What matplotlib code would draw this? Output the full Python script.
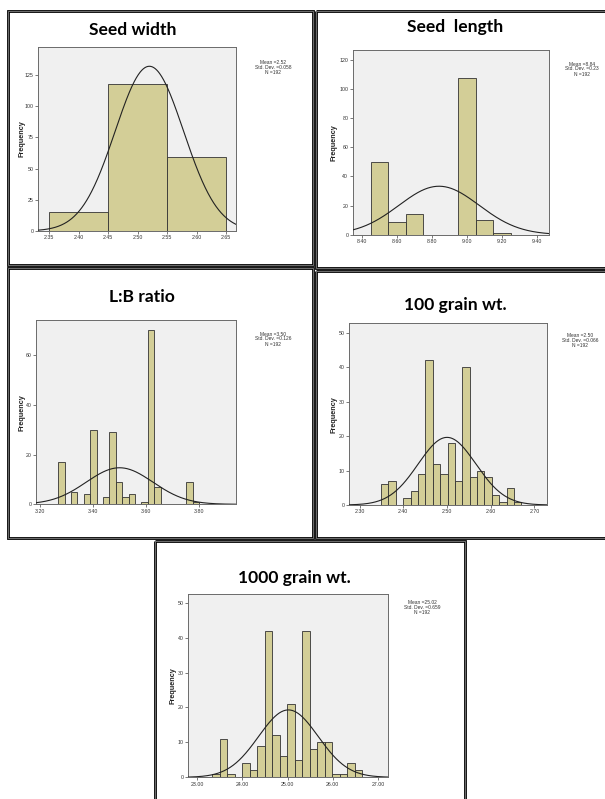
import numpy as np
import matplotlib
matplotlib.use("Agg")
import matplotlib.pyplot as plt
from matplotlib.patches import Rectangle

W, H = 605, 799

# ---------------- data ----------------
titles = ["Seed width", "Seed  length", "L:B ratio", "100 grain wt.", "1000 grain wt."]

sw_edges = [2.35, 2.45, 2.55, 2.65]
sw_counts = [15, 118, 59]
sw_stats = (2.52, 0.058, 192)

sl_edges = [8.45, 8.55, 8.65, 8.75, 8.85, 8.95, 9.05, 9.15, 9.25]
sl_counts = [50, 9, 14, 0, 0, 108, 10, 1]
sl_stats = (8.84, 0.23, 192)

lb_start, lb_width = 3.268, 0.0242
lb_counts = [17, 0, 5, 0, 4, 30, 0, 3, 29, 9, 3, 4, 0, 1, 70, 7, 0, 0, 0, 0, 9, 1]
lb_stats = (3.50, 0.126, 192)

g100_start, g100_width = 2.349, 0.0169
g100_counts = [6, 7, 0, 2, 4, 9, 42, 12, 9, 18, 7, 40, 8, 10, 8, 3, 1, 5, 1]
g100_stats = (2.50, 0.066, 192)

g1000_start, g1000_width = 23.336, 0.166
g1000_counts = [1, 11, 1, 0, 4, 2, 9, 42, 12, 6, 21, 5, 42, 8, 10, 10, 1, 1, 4, 2]
g1000_stats = (25.02, 0.659, 192)

stat_texts = ["Mean =2.52\nStd. Dev. =0.058\nN =192",
              "Mean =8.84\nStd. Dev. =0.23\nN =192",
              "Mean =3.50\nStd. Dev. =0.126\nN =192",
              "Mean =2.50\nStd. Dev. =0.066\nN =192",
              "Mean =25.02\nStd. Dev. =0.659\nN =192"]

sw_xticks = [2.35, 2.40, 2.45, 2.50, 2.55, 2.60, 2.65]
sl_xticks = [8.40, 8.60, 8.80, 9.00, 9.20, 9.40]
lb_xticks = [3.20, 3.40, 3.60, 3.80]
g100_xticks = [2.30, 2.40, 2.50, 2.60, 2.70]
g1000_xticks = [23.0, 24.0, 25.0, 26.0, 27.0]

sw_yticks = [0, 25, 50, 75, 100, 125]
sl_yticks = [0, 20, 40, 60, 80, 100, 120]
lb_yticks = [0, 20, 40, 60]
g100_yticks = [0, 10, 20, 30, 40, 50]
g1000_yticks = [0, 10, 20, 30, 40, 50]

# ---------------- layout (pixel coords) ----------------
fig = plt.figure(figsize=(W / 100, H / 100), dpi=100)
fig.patch.set_facecolor("white")

bg = fig.add_axes([0, 0, 1, 1])
bg.set_xlim(0, W)
bg.set_ylim(H, 0)
bg.axis("off")

boxes = [(8, 11, 313, 265), (316, 11, 607, 268), (8, 268, 313, 538),
         (316, 271, 607, 538), (155, 541, 465, 805)]
for x0, y0, x1, y1 in boxes:
    bg.add_patch(Rectangle((x0, y0), x1 - x0, y1 - y0, fill=False,
                           edgecolor="black", lw=2.0))
    bg.add_patch(Rectangle((x0, y0), x1 - x0, y1 - y0, fill=False,
                           edgecolor="#9a9a9a", lw=0.5))


def px_axes(x0, y0, x1, y1):
    return fig.add_axes([x0 / W, 1 - y1 / H, (x1 - x0) / W, (y1 - y0) / H])


panels = [
    dict(rect=(38, 47, 236, 231), edges=sw_edges, counts=sw_counts, stats=sw_stats,
         xlim=(2.331, 2.667), ylim=(0, 147.5), xticks=sw_xticks, yticks=sw_yticks,
         xfmt="{:.2f}", title_xy=(133, 30), stat_xy=(273, 60), ylab_x=21.7),
    dict(rect=(352.7, 50, 549.3, 234.7), edges=sl_edges, counts=sl_counts, stats=sl_stats,
         xlim=(8.345, 9.472), ylim=(0, 126.9), xticks=sl_xticks, yticks=sl_yticks,
         xfmt="{:.2f}", title_xy=(455, 27), stat_xy=(581.7, 61.5), ylab_x=334),
    dict(rect=(36, 320, 235.7, 504.3),
         edges=[lb_start + i * lb_width for i in range(len(lb_counts) + 1)],
         counts=lb_counts, stats=lb_stats,
         xlim=(3.184, 3.939), ylim=(0, 74.2), xticks=lb_xticks, yticks=lb_yticks,
         xfmt="{:.2f}", title_xy=(142, 297), stat_xy=(273, 331.5), ylab_x=21.7),
    dict(rect=(349.3, 323.3, 546.7, 505),
         edges=[g100_start + i * g100_width for i in range(len(g100_counts) + 1)],
         counts=g100_counts, stats=g100_stats,
         xlim=(2.2764, 2.728), ylim=(0, 52.7), xticks=g100_xticks, yticks=g100_yticks,
         xfmt="{:.2f}", title_xy=(455, 305), stat_xy=(580, 333), ylab_x=334),
    dict(rect=(188.3, 594.3, 387.7, 777.3),
         edges=[g1000_start + i * g1000_width for i in range(len(g1000_counts) + 1)],
         counts=g1000_counts, stats=g1000_stats,
         xlim=(22.805, 27.217), ylim=(0, 52.4), xticks=g1000_xticks, yticks=g1000_yticks,
         xfmt="{:.2f}", title_xy=(294, 578), stat_xy=(422.5, 600), ylab_x=172.7),
]

tick_font = "Liberation Sans"
title_font = ["Lato", "DejaVu Sans"]

for p, title, stxt in zip(panels, titles, stat_texts):
    ax = px_axes(*p["rect"])
    ax.set_facecolor("#F0F0F0")
    edges = np.array(p["edges"])
    counts = np.array(p["counts"])
    widths = np.diff(edges)
    ax.bar(edges[:-1], counts, width=widths, align="edge", color="#D3CE97",
           edgecolor="#333333", linewidth=0.6, zorder=2)
    mean, sd, n = p["stats"]
    bw = widths.mean()
    xs = np.linspace(p["xlim"][0], p["xlim"][1], 400)
    ys = n * bw / (sd * np.sqrt(2 * np.pi)) * np.exp(-0.5 * ((xs - mean) / sd) ** 2)
    ax.plot(xs, ys, color="#222222", lw=0.8, zorder=3)
    ax.set_xlim(*p["xlim"])
    ax.set_ylim(*p["ylim"])
    ax.set_xticks(p["xticks"])
    ax.set_xticklabels([p["xfmt"].format(t) for t in p["xticks"]],
                       fontsize=3.8, family=tick_font, color="#333333")
    ax.set_yticks(p["yticks"])
    ax.set_yticklabels([str(t) for t in p["yticks"]],
                       fontsize=3.8, family=tick_font, color="#333333")
    ax.tick_params(length=2.0, width=0.5, pad=1.2, color="#444444")
    for s in ax.spines.values():
        s.set_color("#6a6a6a")
        s.set_linewidth(0.7)

    tx, ty = p["title_xy"]
    fig.text(tx / W, 1 - ty / H, title, ha="center", va="center",
             fontsize=12.6, fontweight="bold", family=title_font, color="black")
    sx, sy = p["stat_xy"]
    fig.text(sx / W, 1 - sy / H, stxt, ha="center", va="top", fontsize=3.5,
             family=tick_font, color="#333333", linespacing=1.0)
    x0, y0, x1, y1 = p["rect"]
    fig.text(p["ylab_x"] / W, 1 - (y0 + y1) / 2 / H, "Frequency", rotation=90,
             ha="center", va="center", fontsize=5.2, fontweight="bold",
             family=tick_font, color="#222222")

fig.savefig("out.png", dpi=100, facecolor="white")
